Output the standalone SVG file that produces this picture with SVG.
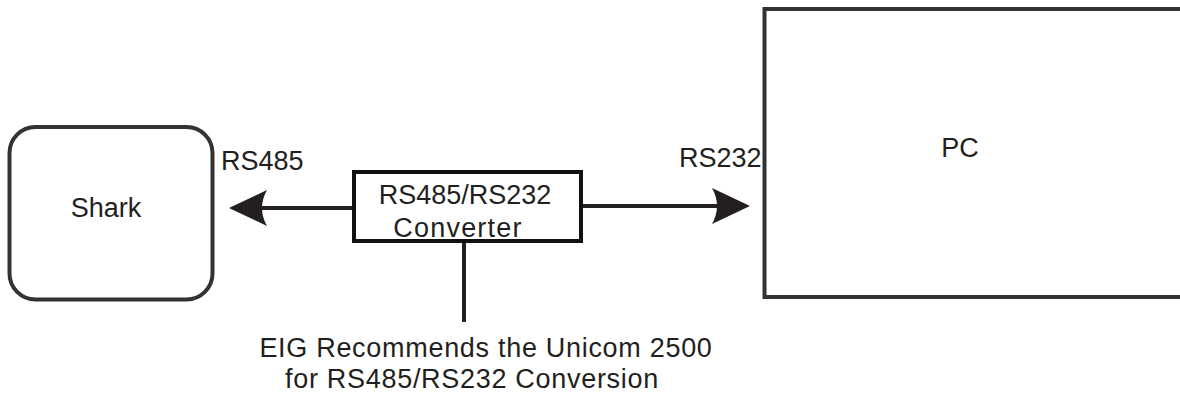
<svg xmlns="http://www.w3.org/2000/svg" width="1180" height="397" viewBox="0 0 1180 397">
<style>
  .box { fill: #ffffff; stroke: #333333; stroke-width: 4; }
  .conv { fill: #ffffff; stroke: #111111; stroke-width: 4; }
  .wire { fill: none; stroke: #231f20; stroke-width: 4; }
  .t { font-family: "Liberation Sans", Arial, sans-serif; font-size: 27px; fill: #231f20; }
  .wide { letter-spacing: 0.7px; }
</style>
<defs>
  <marker id="barb" markerUnits="userSpaceOnUse" viewBox="-40 -21 44 42" refX="-20" refY="0" markerWidth="44" markerHeight="42" orient="auto">
    <path d="M0,0 L-38,-18 Q-28,0 -38,18 Z" fill="#231f20"/>
  </marker>
</defs>
<g id="connectors">
  <line class="wire" x1="354" y1="208" x2="249" y2="208" marker-end="url(#barb)"/>
  <line class="wire" x1="581" y1="206" x2="730" y2="206" marker-end="url(#barb)"/>
  <line class="wire" x1="464" y1="241" x2="464" y2="322"/>
</g>
<g id="shark">
  <rect class="box" x="9.5" y="127" width="203" height="172.5" rx="26"/>
  <text class="t" x="106" y="217" text-anchor="middle">Shark</text>
</g>
<g id="converter">
  <rect class="conv" x="354" y="172" width="227" height="69"/>
  <text class="t" text-anchor="middle"><tspan x="465" y="204">RS485/RS232</tspan><tspan x="458" y="237" letter-spacing="1.2">Converter</tspan></text>
</g>
<g id="pc">
  <rect class="box" x="764.5" y="9" width="500" height="288"/>
  <text class="t" x="960" y="157" text-anchor="middle">PC</text>
</g>
<g id="labels">
  <text class="t" x="221" y="170">RS485</text>
  <text class="t" x="679" y="167">RS232</text>
  <text class="t wide" text-anchor="middle"><tspan x="486" y="357">EIG Recommends the Unicom 2500</tspan><tspan x="472" y="388">for RS485/RS232 Conversion</tspan></text>
</g>
</svg>
